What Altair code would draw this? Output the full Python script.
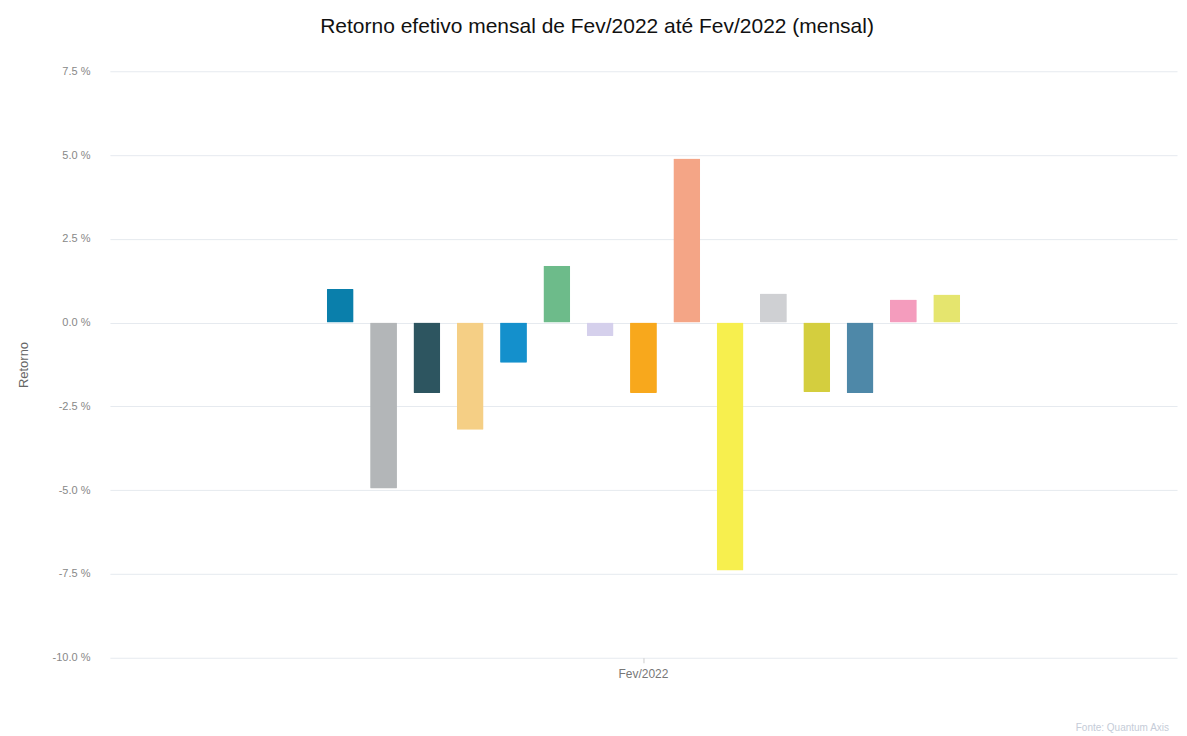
import altair as alt
import pandas as pd

series = ["Fundo A", "Fundo B", "Fundo C", "Fundo D", "Fundo E", "Fundo F", "Fundo G",
          "Fundo H", "Fundo I", "Fundo J", "Fundo K", "Fundo L", "Fundo M", "Fundo N", "Fundo O"]
values = [1.0, -4.95, -2.1, -3.2, -1.2, 1.7, -0.4, -2.1, 4.9, -7.4, 0.87, -2.07, -2.1, 0.69, 0.84]
colors = ["#0a7fab", "#b3b6b8", "#2d5560", "#f5cf85", "#1490cc", "#6dbb8a", "#d5d0ec",
          "#f8a81c", "#f4a586", "#f7ef4e", "#cfd0d3", "#d4ce3e", "#4e88a8", "#f49cbd", "#e5e56e"]
period = "Fev/2022"

df = pd.DataFrame({"periodo": [period] * len(series), "serie": series, "retorno": values})

bars = alt.Chart(df).mark_bar(cornerRadius=1).encode(
    x=alt.X("periodo:N", title=None,
            scale=alt.Scale(paddingInner=0, paddingOuter=0.32),
            axis=alt.Axis(labelAngle=0, labelColor="#777777", labelFontSize=12,
                          domain=False, grid=False, ticks=True, tickColor="#cccccc",
                          tickSize=5, labelPadding=6)),
    xOffset=alt.XOffset("serie:N", sort=series,
                        scale=alt.Scale(paddingInner=0.38, paddingOuter=0.2)),
    y=alt.Y("retorno:Q", title="Retorno",
            scale=alt.Scale(domain=[-10, 7.5], nice=False),
            axis=alt.Axis(values=[-10, -7.5, -5, -2.5, 0, 2.5, 5, 7.5],
                          labelExpr="replace(format(datum.value, '.1f'), '\u2212', '-') + ' %'",
                          labelColor="#888888", labelFontSize=11, labelPadding=20,
                          domain=False, ticks=False, gridColor="#e6eaef",
                          titleColor="#666666", titleFontSize=13, titleFontWeight="normal",
                          titlePadding=22)),
    color=alt.Color("serie:N", sort=series,
                    scale=alt.Scale(domain=series, range=colors), legend=None),
)

footer = alt.Chart(pd.DataFrame({"t": ["Fonte: Quantum Axis"]})).mark_text(
    align="right", baseline="middle", fontSize=10, color="#c5ccd8"
).encode(text="t:N", x=alt.value(1060), y=alt.value(657))

chart = alt.layer(bars, footer).properties(
    width=1068, height=587,
    title=alt.TitleParams("Retorno efetivo mensal de Fev/2022 até Fev/2022 (mensal)",
                          font="Liberation Sans", fontSize=21, fontWeight="normal",
                          color="#111111", offset=28, frame="bounds", anchor="middle"),
    padding={"left": 9, "top": 8, "right": 2, "bottom": 0},
).configure(font="Liberation Sans").configure_view(stroke="transparent", strokeWidth=0)

chart.save("out.html", embed_options={"renderer": "svg", "actions": False})
